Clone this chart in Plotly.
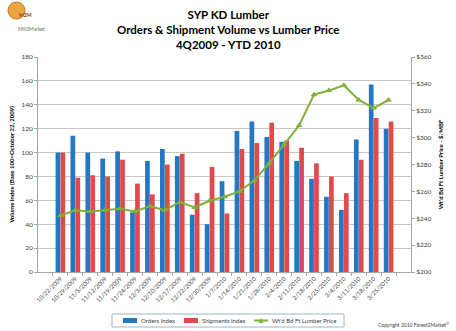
import plotly.graph_objects as go

# Weekly report dates
weeks = ["10/22/2009", "10/29/2009", "11/5/2009", "11/12/2009", "11/19/2009",
         "11/24/2009", "12/3/2009", "12/10/2009", "12/17/2009", "12/22/2009",
         "12/30/2009", "1/7/2010", "1/14/2010", "1/21/2010", "1/28/2010",
         "2/4/2010", "2/11/2010", "2/18/2010", "2/25/2010", "3/4/2010",
         "3/11/2010", "3/18/2010", "3/25/2010"]

# Volume indexes (base 100 = October 22, 2009)
orders_index = [100, 114, 100, 95, 101, 50, 93, 103, 97, 48, 40, 76,
                118, 126, 113, 109, 93, 78, 63, 52, 111, 157, 120]
shipments_index = [100, 79, 81, 80, 94, 74, 65, 90, 99, 66, 88, 49,
                   103, 108, 125, 110, 104, 91, 80, 66, 94, 129, 126]

# Weighted board-foot lumber price, $/MBF
lumber_price = [242, 246, 245, 246, 247, 245, 249, 246, 252, 248, 253, 256,
                260, 268, 281, 295, 309, 332, 335, 339, 328, 322, 328]

left_ticks = list(range(0, 181, 20))
right_ticks = list(range(200, 361, 20))

series_names = ["Orders Index", "Shipments Index", "Wt'd Bd Ft Lumber Price"]

FONT = "Lato, 'Open Sans', Arial, sans-serif"
BLUE = "#2477c4"
RED = "#e04a4a"
GREEN = "#80b03a"

W, H = 456, 331
ML, MR, MT, MB = 38, 45, 57, 59


def px(x):
    """Horizontal pixel position -> paper fraction."""
    return (x - ML) / (W - ML - MR)


def py(y):
    """Vertical pixel position (from top) -> paper fraction."""
    return (H - MB - y) / (H - MT - MB)


fig = go.Figure()
fig.add_trace(go.Bar(x=weeks, y=orders_index, name=series_names[0],
                     marker=dict(color=BLUE, line=dict(width=0))))
fig.add_trace(go.Bar(x=weeks, y=shipments_index, name=series_names[1],
                     marker=dict(color=RED, line=dict(width=0))))
fig.add_trace(go.Scatter(x=weeks, y=lumber_price, name=series_names[2],
                         yaxis="y2", mode="lines+markers",
                         line=dict(color=GREEN, width=2),
                         marker=dict(symbol="triangle-up", size=6, color=GREEN)))

axis_line = dict(showline=True, linecolor="#a6a6a6", linewidth=1,
                 ticks="outside", ticklen=3, tickcolor="#a6a6a6",
                 automargin=False)

fig.update_layout(
    width=W, height=H,
    margin=dict(l=ML, r=MR, t=MT, b=MB, autoexpand=False),
    paper_bgcolor="white", plot_bgcolor="white",
    font=dict(family=FONT, color="#404040", size=7),
    barmode="group", bargap=0.34, bargroupgap=0.04,
    showlegend=False,
    xaxis=dict(
        type="category", tickangle=-45,
        tickfont=dict(size=6, color="#404040"),
        showgrid=False, tickson="boundaries", **axis_line,
    ),
    yaxis=dict(
        range=[0, 180], tickvals=left_ticks,
        tickfont=dict(size=6.5, color="#404040"),
        showgrid=True, gridcolor="#c8c8c8", gridwidth=1,
        zeroline=False, **axis_line,
        title=dict(text="<b>Volume Index (Base 100=October 22, 2009)</b>",
                   font=dict(size=6, color="black"), standoff=6),
    ),
    yaxis2=dict(
        range=[200, 360], tickvals=right_ticks,
        ticktext=[f"${v}" for v in right_ticks],
        overlaying="y", side="right",
        tickfont=dict(size=6.5, color="#404040"),
        showgrid=False, zeroline=False, **axis_line,
        title=dict(text="<b>Wt'd Bd Ft Lumber Price - $/MBF</b>",
                   font=dict(size=6, color="black"), standoff=8),
    ),
)

# Three-line chart title
fig.add_annotation(
    text="<b>SYP KD Lumber<br>Orders & Shipment Volume vs Lumber Price<br>4Q2009 - YTD 2010</b>",
    xref="paper", yref="paper", x=px(228), y=py(6), xanchor="center", yanchor="top",
    showarrow=False, align="center",
    font=dict(family=FONT, size=11.5, color="black"))

# Mill2Market logo badge, top-left corner
fig.add_shape(type="circle", xref="paper", yref="paper",
              x0=px(8), x1=px(25), y0=py(19), y1=py(2),
              fillcolor="#e9a53f", line=dict(color="#c07a22", width=1))
fig.add_annotation(text="<b>M2M</b>", xref="paper", yref="paper",
                   x=px(16.5), y=py(10.5), showarrow=False,
                   font=dict(size=5, color="#7a3d10"))
fig.add_annotation(text="Mill2Market", xref="paper", yref="paper",
                   x=px(16), y=py(24), showarrow=False,
                   font=dict(size=5, color="#5b7a5a"))

# Legend box below the axis labels
fig.add_shape(type="rect", xref="paper", yref="paper",
              x0=px(112), x1=px(344), y0=py(327), y1=py(314),
              line=dict(color="#9fb3cc", width=1), fillcolor="white")
fig.add_shape(type="rect", xref="paper", yref="paper",
              x0=px(123), x1=px(137), y0=py(323), y1=py(318),
              line=dict(width=0), fillcolor=BLUE)
fig.add_shape(type="rect", xref="paper", yref="paper",
              x0=px(184), x1=px(198), y0=py(323), y1=py(318),
              line=dict(width=0), fillcolor=RED)
fig.add_shape(type="line", xref="paper", yref="paper",
              x0=px(254), x1=px(268), y0=py(320.5), y1=py(320.5),
              line=dict(color=GREEN, width=2))
fig.add_shape(type="path", xref="paper", yref="paper",
              path=f"M {px(258.5)},{py(323)} L {px(263.5)},{py(323)} L {px(261)},{py(318)} Z",
              line=dict(width=0), fillcolor=GREEN)
for label, xpos in zip(series_names, [139, 200, 270]):
    fig.add_annotation(text=label, xref="paper", yref="paper",
                       x=px(xpos), y=py(320.5), xanchor="left", yanchor="middle",
                       showarrow=False, font=dict(size=6, color="#404040"))

fig.add_annotation(text="Copyright 2010 Forest2Market<sup>®</sup>",
                   xref="paper", yref="paper", x=px(413), y=py(324),
                   xanchor="center", yanchor="middle",
                   showarrow=False, font=dict(size=5, color="#404040"))

fig.write_html("out.html")
